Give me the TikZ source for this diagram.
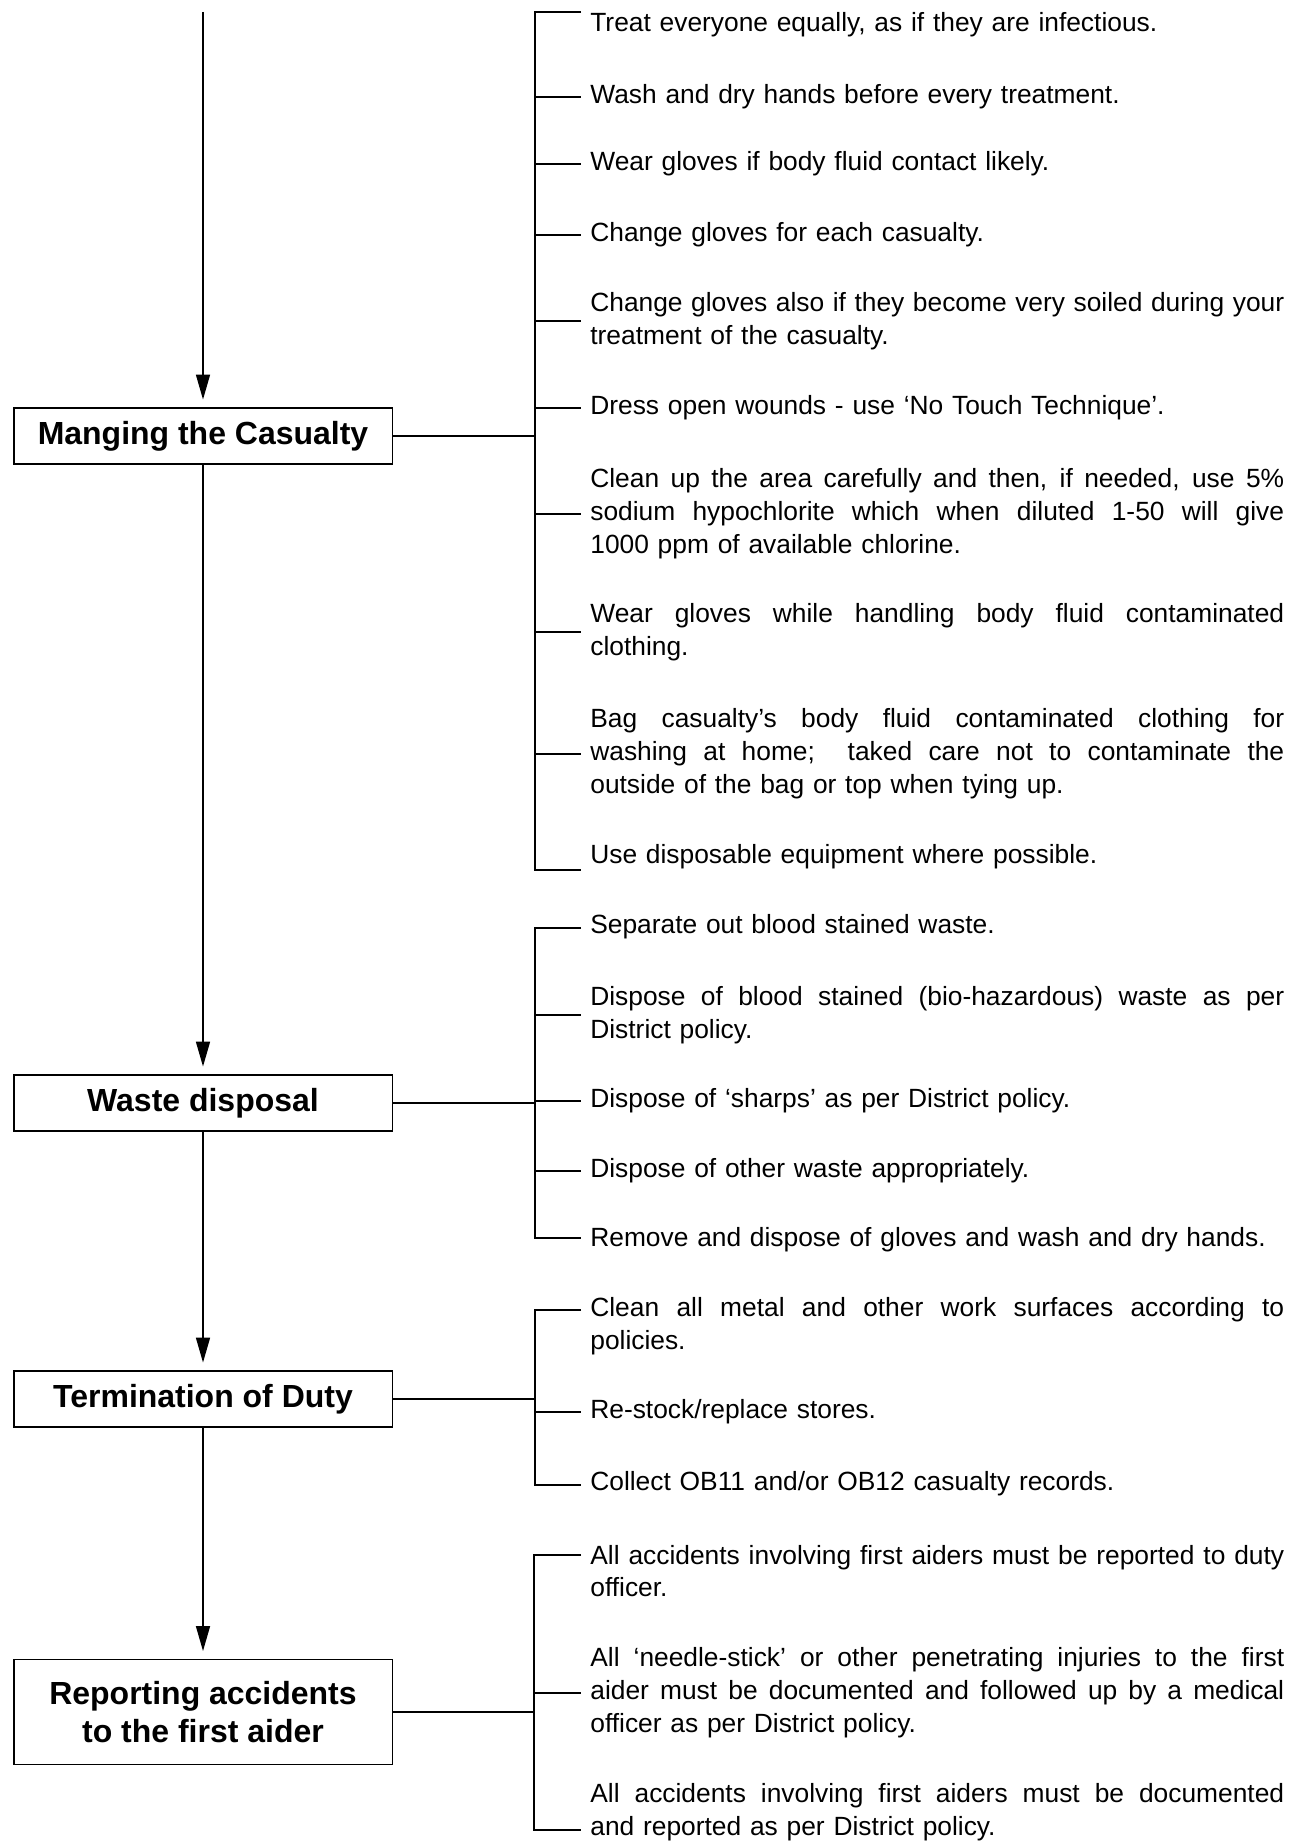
\documentclass[tikz,border=0pt]{standalone}
\usepackage{fontspec}
\setmainfont{Liberation Sans}
\usetikzlibrary{arrows.meta,calc,positioning}

\newcommand{\jl}[1]{{\spaceskip=0pt\xspaceskip=0pt\makebox[13.88cm][s]{#1}}}

\tikzset{
	stage/.style={draw, line width=1.1pt, minimum width=7.58cm, minimum height=1.12cm, inner sep=0pt, align=center, font=\fontsize{18.2}{22}\selectfont\bfseries},
	item/.style={anchor=west, inner xsep=0.18cm, inner ysep=0pt, text width=13.88cm, align=left, font=\fontsize{15}{18.7}\selectfont},
	link/.style={line width=0.9pt},
	flow/.style={line width=0.9pt, -{Triangle[length=0.5cm,width=0.28cm]}, shorten >=0.15cm}
}

\begin{document}
\begin{tikzpicture}[x=0.02cm,y=-0.02cm]
				\useasboundingbox (0,0) rectangle (1305,1841);
				\coordinate (s) at (203,12);
				\node[stage] (m1) at (203,436) {Manging the Casualty};
				\node[stage] (m2) at (203,1103) {Waste disposal};
				\node[stage] (m3) at (203,1399) {Termination of Duty};
				\node[stage, minimum height=2.1cm] (m4) at (203,1712) {Reporting accidents\\to the first aider};
				\draw[flow] (s) -- (m1);
				\draw[flow] (m1) -- (m2);
				\draw[flow] (m2) -- (m3);
				\draw[flow] (m3) -- (m4);
				\coordinate (k1a) at (535,12);
				\coordinate (k1b) at (535,870);
				\node[item] (t1) at (581,25) {Treat everyone equally, as if they are infectious.};
				\node[item] (t2) at (581,97) {Wash and dry hands before every treatment.};
				\node[item] (t3) at (581,164) {Wear gloves if body fluid contact likely.};
				\node[item] (t4) at (581,235) {Change gloves for each casualty.};
				\node[item] (t5) at (581,321) {\jl{Change gloves also if they become very soiled during your}\\treatment of the casualty.};
				\node[item] (t6) at (581,408) {Dress open wounds - use ‘No Touch Technique’.};
				\node[item] (t7) at (581,514) {\jl{Clean up the area carefully and then, if needed, use 5\%}\\\jl{sodium hypochlorite which when diluted 1-50 will give}\\1000 ppm of available chlorine.};
				\node[item] (t8) at (581,632) {\jl{Wear gloves while handling body fluid contaminated}\\clothing.};
				\node[item] (t9) at (581,754) {\jl{Bag casualty’s body fluid contaminated clothing for}\\\jl{washing at home;\ \ taked care not to contaminate the}\\outside of the bag or top when tying up.};
				\node[item] (t10) at (581,857) {Use disposable equipment where possible.};
				\draw[link] (t1.west |- k1a) -- (k1a) -- (k1b) -- (k1b -| t10.west);
				\foreach \n in {t2,t3,t4,t5,t6,t7,t8,t9}
					\draw[link] (k1a |- \n.west) -- (\n.west);
				\draw[link] (m1.east) -- (m1.east -| k1a);
				\coordinate (k2a) at (535,928);
				\coordinate (k2b) at (535,1238);
				\node[item] (w1) at (581,927) {Separate out blood stained waste.};
				\node[item] (w2) at (581,1015) {\jl{Dispose of blood stained (bio-hazardous) waste as per}\\District policy.};
				\node[item] (w3) at (581,1101) {Dispose of ‘sharps’ as per District policy.};
				\node[item] (w4) at (581,1171) {Dispose of other waste appropriately.};
				\node[item] (w5) at (581,1240) {Remove and dispose of gloves and wash and dry hands.};
				\draw[link] (w1.west |- k2a) -- (k2a) -- (k2b) -- (k2b -| w5.west);
				\foreach \n in {w2,w3,w4}
					\draw[link] (k2a |- \n.west) -- (\n.west);
				\draw[link] (m2.east) -- (m2.east -| k2a);
				\coordinate (k3a) at (535,1310);
				\coordinate (k3b) at (535,1485);
				\node[item] (d1) at (581,1326) {\jl{Clean all metal and other work surfaces according to}\\policies.};
				\node[item] (d2) at (581,1412) {Re-stock/replace stores.};
				\node[item] (d3) at (581,1484) {Collect OB11 and/or OB12 casualty records.};
				\draw[link] (d1.west |- k3a) -- (k3a) -- (k3b) -- (k3b -| d3.west);
				\draw[link] (k3a |- d2.west) -- (d2.west);
				\draw[link] (m3.east) -- (m3.east -| k3a);
				\coordinate (k4a) at (534,1555);
				\coordinate (k4b) at (534,1830);
				\node[item] (r1) at (581,1571) {\jl{All accidents involving first aiders must be reported to duty}\\officer.};
				\node[item] (r2) at (581,1693) {\jl{All ‘needle-stick’ or other penetrating injuries to the first}\\\jl{aider must be documented and followed up by a medical}\\officer as per District policy.};
				\node[item] (r3) at (581,1812) {\jl{All accidents involving first aiders must be documented}\\and reported as per District policy.};
				\draw[link] (r1.west |- k4a) -- (k4a) -- (k4b) -- (k4b -| r3.west);
				\draw[link] (k4a |- r2.west) -- (r2.west);
				\draw[link] (m4.east) -- (m4.east -| k4a);
\end{tikzpicture}
\end{document}
